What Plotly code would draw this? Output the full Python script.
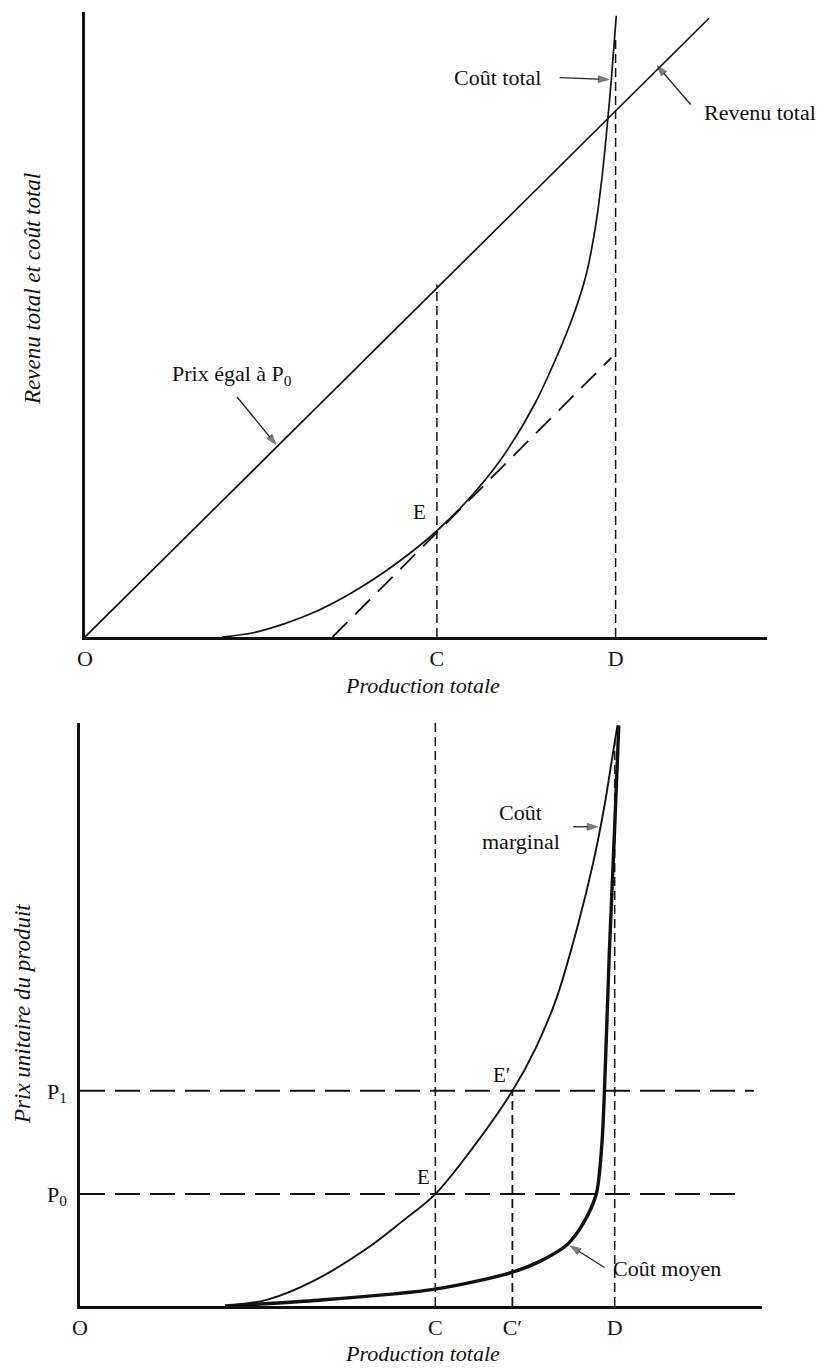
import plotly.graph_objects as go

# ---------------- DATA (axis units 0-100) ----------------
# Top panel: total revenue and total cost vs total production
tr_x = [0, 91.5]
tr_y = [0, 99.0]
tc_x = [20.1, 24.3, 29.2, 34.1, 39.0, 43.9, 48.8, 51.6, 56.2, 61.1, 66.0, 70.9, 73.4, 74.8, 75.8, 76.5, 77.2, 77.9]
tc_y = [0.0, 0.6, 2.1, 4.2, 7.0, 10.4, 14.4, 17.0, 22.0, 28.6, 37.4, 49.4, 57.6, 65.3, 73.5, 81.0, 89.5, 99.4]
tangent_x = [36.3, 77.2]
tangent_y = [0.0, 44.7]
top_tick_vals = [0, 51.6, 77.8]
top_tick_text = ["O", "C", "D"]
c_line_top = 56.4
d_line_top = 96.0

# Bottom panel: unit price, marginal cost and average cost
mc_x = [21.3, 27.5, 34.4, 42.1, 47.0, 52.1, 57.5, 63.4, 66.8, 69.9, 73.0, 75.3, 76.9, 78.1, 78.8]
mc_y = [0.0, 1.1, 4.4, 9.9, 14.3, 19.2, 27.0, 36.9, 44.2, 52.9, 65.3, 76.3, 85.8, 94.5, 99.6]
ac_x = [21.3, 34.4, 52.1, 63.4, 67.5, 71.5, 73.8, 75.7, 76.5, 76.9, 77.6, 78.4, 79.0]
ac_y = [0.0, 0.95, 2.9, 5.8, 7.7, 10.6, 14.2, 19.2, 27.4, 36.9, 60.2, 82.1, 99.6]
bot_tick_vals = [0, 52.1, 63.4, 78.4]
bot_tick_text = ["O", "C", "C′", "D"]
price_vals = [19.2, 36.9]
price_text = ["P<sub>0</sub>", "P<sub>1</sub>"]
price_line_end = [97.0, 98.8]
c2_line_top = 100.0
cp_line_top = 36.9
d2_line_top = 97.0

# ---------------- FIGURE ----------------
W, H = 823, 1368
FONT = "Liberation Serif"
BLACK = "#111111"

def px_x(a, b):
    return [a / W, b / W]

def px_y(top, base):
    return [1 - base / H, 1 - top / H]

def paper_pt(x, y):
    return x / W, 1 - y / H

fig = go.Figure()

# Top panel
fig.add_trace(go.Scatter(x=tr_x, y=tr_y, mode="lines", line=dict(color=BLACK, width=1.7),
                         xaxis="x", yaxis="y", hoverinfo="skip"))
fig.add_trace(go.Scatter(x=tc_x, y=tc_y, mode="lines", line=dict(color=BLACK, width=1.7, shape="spline", smoothing=0.8),
                         xaxis="x", yaxis="y", hoverinfo="skip"))
fig.add_trace(go.Scatter(x=tangent_x, y=tangent_y, mode="lines",
                         line=dict(color=BLACK, width=1.8, dash="21px,11px"),
                         xaxis="x", yaxis="y", hoverinfo="skip"))
fig.add_trace(go.Scatter(x=[top_tick_vals[1], top_tick_vals[1]], y=[0, c_line_top], mode="lines",
                         line=dict(color=BLACK, width=1.5, dash="9px,5px"),
                         xaxis="x", yaxis="y", hoverinfo="skip"))
fig.add_trace(go.Scatter(x=[top_tick_vals[2], top_tick_vals[2]], y=[0, d_line_top], mode="lines",
                         line=dict(color=BLACK, width=1.5, dash="9px,5px"),
                         xaxis="x", yaxis="y", hoverinfo="skip"))

# Bottom panel
for pv, pe in zip(price_vals, price_line_end):
    fig.add_trace(go.Scatter(x=[0, pe], y=[pv, pv], mode="lines",
                             line=dict(color=BLACK, width=2.0, dash="25px,10px"),
                             xaxis="x2", yaxis="y2", hoverinfo="skip"))
fig.add_trace(go.Scatter(x=[bot_tick_vals[1], bot_tick_vals[1]], y=[0, c2_line_top], mode="lines",
                         line=dict(color=BLACK, width=1.5, dash="9px,5px"),
                         xaxis="x2", yaxis="y2", hoverinfo="skip"))
fig.add_trace(go.Scatter(x=[bot_tick_vals[2], bot_tick_vals[2]], y=[0, cp_line_top], mode="lines",
                         line=dict(color=BLACK, width=1.8, dash="9px,5px"),
                         xaxis="x2", yaxis="y2", hoverinfo="skip"))
fig.add_trace(go.Scatter(x=[bot_tick_vals[3], bot_tick_vals[3]], y=[0, d2_line_top], mode="lines",
                         line=dict(color=BLACK, width=1.5, dash="9px,5px"),
                         xaxis="x2", yaxis="y2", hoverinfo="skip"))
fig.add_trace(go.Scatter(x=mc_x, y=mc_y, mode="lines", line=dict(color=BLACK, width=1.9, shape="spline", smoothing=0.9),
                         xaxis="x2", yaxis="y2", hoverinfo="skip"))
fig.add_trace(go.Scatter(x=ac_x, y=ac_y, mode="lines", line=dict(color=BLACK, width=3.4, shape="spline", smoothing=0.8),
                         xaxis="x2", yaxis="y2", hoverinfo="skip"))

axis_common = dict(showgrid=False, zeroline=False, showline=True, linecolor=BLACK, linewidth=2.6,
                   ticks="", range=[0, 100], fixedrange=True, automargin=False)
tickfont = dict(family=FONT, size=22, color=BLACK)

fig.update_layout(
    width=W, height=H, margin=dict(l=0, r=0, t=0, b=0, autoexpand=False),
    paper_bgcolor="white", plot_bgcolor="white", showlegend=False,
    xaxis=dict(axis_common, domain=px_x(85, 767), anchor="y",
               tickvals=top_tick_vals, ticktext=top_tick_text, tickfont=tickfont),
    yaxis=dict(axis_common, domain=px_y(12, 637), anchor="x", showticklabels=False),
    xaxis2=dict(axis_common, domain=px_x(80, 762), anchor="y2",
                tickvals=bot_tick_vals, ticktext=bot_tick_text, tickfont=tickfont),
    yaxis2=dict(axis_common, domain=px_y(723, 1306), anchor="x2",
                tickvals=price_vals, ticktext=price_text, tickfont=tickfont, ticklabelstandoff=6),
)

def text_ann(x, y, t, xr="x", yr="y", xanchor="center", size=22, angle=0):
    fig.add_annotation(x=x, y=y, xref=xr, yref=yr, text=t, showarrow=False, textangle=angle,
                       font=dict(family=FONT, size=size, color=BLACK), xanchor=xanchor, yanchor="middle")

def arrow(x, y, ax, ay, xa="x", ya="y"):
    # pointer from (ax, ay) to the curve at (x, y)
    fig.add_trace(go.Scatter(x=[ax, x], y=[ay, y], mode="lines+markers", xaxis=xa, yaxis=ya,
                             line=dict(color="#222222", width=1.3),
                             marker=dict(symbol="arrow", size=[0, 11], angleref="previous", color="#444444",
                                         line=dict(color="#222222", width=0.8)),
                             hoverinfo="skip", cliponaxis=False))

# Axis titles (placed as in the reference)
px_, py_ = paper_pt(422, 685)
text_ann(px_, py_, "<i>Production totale</i>", "paper", "paper", size=22)
px_, py_ = paper_pt(422, 1353)
text_ann(px_, py_, "<i>Production totale</i>", "paper", "paper", size=22)
px_, py_ = paper_pt(32, 289)
text_ann(px_, py_, "<i>Revenu total et coût total</i>", "paper", "paper", size=23, angle=-90)
px_, py_ = paper_pt(22, 1014)
text_ann(px_, py_, "<i>Prix unitaire du produit</i>", "paper", "paper", size=23, angle=-90)

# Top panel labels
text_ann(60.5, 89.5, "Coût total")
arrow(76.8, 89.2, 69.6, 89.5)
text_ann(99.0, 84.0, "Revenu total")
arrow(83.9, 91.4, 88.8, 85.2)
text_ann(21.5, 42.0, "Prix égal à P<sub>0</sub>")
arrow(28.0, 30.8, 22.3, 38.4)
text_ann(49.0, 20.0, "E", size=21)

# Bottom panel labels
text_ann(64.6, 84.7, "Coût", "x2", "y2")
text_ann(64.6, 79.7, "marginal", "x2", "y2")
arrow(75.9, 82.2, 72.3, 82.2, "x2", "y2")
text_ann(86.0, 6.5, "Coût moyen", "x2", "y2")
arrow(71.9, 10.3, 76.9, 6.6, "x2", "y2")
text_ann(50.3, 22.2, "E", "x2", "y2", size=21)
text_ann(61.8, 39.6, "E′", "x2", "y2", size=21)

# remove the default page margin so the figure fills the window exactly
fig.write_html("out.html", config={"displayModeBar": False, "staticPlot": True},
               post_script="document.body.style.margin='0';document.body.style.overflow='hidden';")
